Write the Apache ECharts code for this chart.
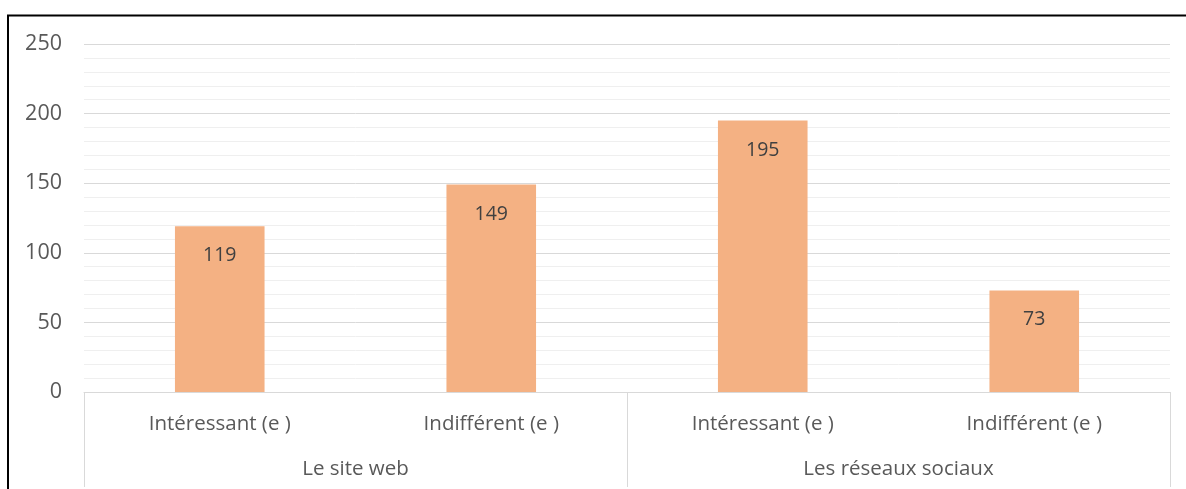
<!DOCTYPE html>
<html>
<head>
<meta charset="utf-8">
<script src="https://cdn.jsdelivr.net/npm/echarts@6/dist/echarts.min.js"></script>
<style>
  html, body { margin: 0; padding: 0; background: #ffffff; }
  #chart { width: 1186px; height: 489px; }
</style>
</head>
<body>
<div id="chart"></div>
<script>
// Responses per item, grouped by channel
const categories = ['Intéressant (e )', 'Indifférent (e )', 'Intéressant (e )', 'Indifférent (e )'];
const groups = ['Le site web', 'Les réseaux sociaux'];
const values = [119, 149, 195, 73];
const yTicks = { min: 0, max: 250, interval: 50 };

const FONT = '"Open Sans", "Liberation Sans", sans-serif';
const TEXT = '#595959';

const chart = echarts.init(document.getElementById('chart'), null, { renderer: 'canvas' });

chart.setOption({
  animation: false,
  backgroundColor: '#ffffff',
  grid: { left: 84, right: 16, top: 44, bottom: 97, containLabel: false },
  graphic: [{
    type: 'rect',
    shape: { x: 8, y: 15.5, width: 1300, height: 600 },
    style: { fill: 'none', stroke: '#000000', lineWidth: 2 },
    silent: true,
    z: 100
  }],
  xAxis: [{
    type: 'category',
    data: categories,
    position: 'bottom',
    axisLine: { show: true, lineStyle: { color: '#d9d9d9', width: 1 } },
    axisTick: { show: false },
    axisLabel: { color: TEXT, fontFamily: FONT, fontSize: 20.5, margin: 22 }
  }, {
    type: 'category',
    data: groups,
    position: 'bottom',
    axisLine: { show: false },
    axisTick: { show: true, length: 95, lineStyle: { color: '#d9d9d9', width: 1 } },
    axisLabel: { color: TEXT, fontFamily: FONT, fontSize: 20.5, margin: 67 }
  }],
  yAxis: {
    type: 'value',
    min: yTicks.min,
    max: yTicks.max,
    interval: yTicks.interval,
    minorTick: { show: false, splitNumber: 5 },
    minorSplitLine: { show: true, lineStyle: { color: '#efefef', width: 1 } },
    splitLine: { show: true, lineStyle: { color: '#d9d9d9', width: 1 } },
    axisLine: { show: false },
    axisTick: { show: false },
    axisLabel: { color: TEXT, fontFamily: FONT, fontSize: 21.5, margin: 22 }
  },
  series: [{
    type: 'bar',
    xAxisIndex: 0,
    data: values,
    barWidth: '33%',
    itemStyle: { color: '#F4B183' },
    label: {
      show: true,
      position: 'insideTop',
      distance: 19.5,
      color: '#404040',
      fontFamily: FONT,
      fontSize: 19.5
    }
  }]
});
</script>
</body>
</html>
